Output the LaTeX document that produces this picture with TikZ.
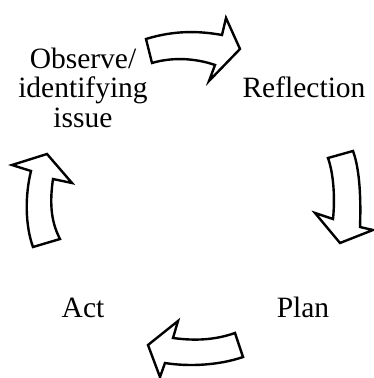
\documentclass[tikz,border=0pt]{standalone}
\usepackage{fontspec}
\setmainfont{Liberation Serif}
\begin{document}
\begin{tikzpicture}[x=1pt,y=-1pt,
  stagelabel/.style={font=\fontsize{29.5}{29.3}\selectfont, inner sep=0pt, anchor=base, align=center},
  bigarrow/.style={draw=black, line width=2.4pt, fill=white, line join=miter}]
\useasboundingbox (0,0) rectangle (374,378);

% stage labels (multi-line label is anchored at its last baseline)
\node[stagelabel] (obs)  at (83,127) {Observe/\\identifying\\issue};
\node[stagelabel] (refl) at (304,97) {Reflection};
\node[stagelabel] (plan) at (303,317) {Plan};
\node[stagelabel] (act)  at (83,317) {Act};

% curved block arrows around the cycle
\draw[bigarrow] (146,39) .. controls (175,30) and (200,31) .. (222,35)
  -- (226,18) -- (240,49) -- (209,81) -- (215,65)
  .. controls (195,58) and (172,57) .. (152,63) -- cycle;

\draw[bigarrow] (328,158) -- (353,151)
  .. controls (360,170) and (361,200) .. (360,227)
  -- (373,230) -- (340,243) -- (315,213) -- (333,219)
  .. controls (335,200) and (334,175) .. (328,158) -- cycle;

\draw[bigarrow] (235,333) -- (243,357)
  .. controls (220,365) and (190,367) .. (165,363)
  -- (160,377) -- (148,345) -- (178,321) -- (173,338)
  .. controls (195,341) and (215,340) .. (235,333) -- cycle;

\draw[bigarrow] (33,247) -- (60,239)
  .. controls (50,220) and (50,200) .. (53,179)
  -- (72,183) -- (47,154) -- (12,165) -- (31,171)
  .. controls (25,195) and (25,225) .. (33,247) -- cycle;
\end{tikzpicture}
\end{document}
